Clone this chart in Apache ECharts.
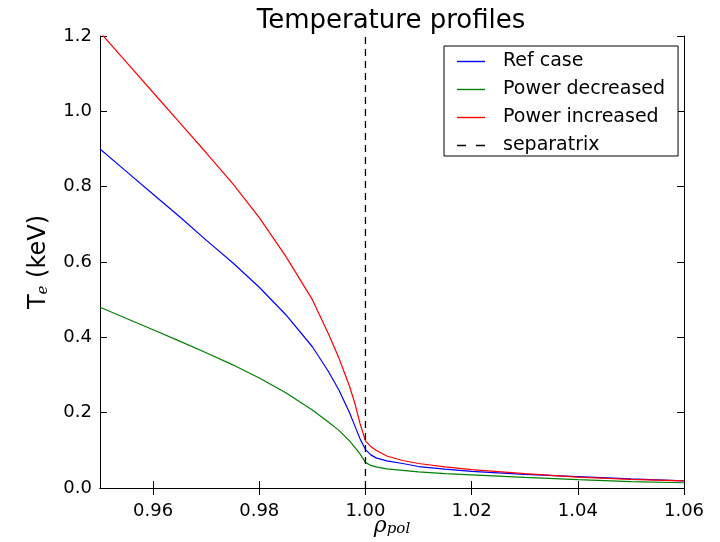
<!DOCTYPE html>
<html>
<head>
<meta charset="utf-8">
<script src="https://cdn.jsdelivr.net/npm/echarts@6/dist/echarts.min.js"></script>
<style>
  html, body { margin: 0; padding: 0; background: #fff; }
  #chart { width: 720px; height: 542px; }
</style>
</head>
<body>
<div id="chart"></div>
<script>
// rho_pol sample points
var rho = [0.95, 0.955, 0.96, 0.965, 0.97, 0.975, 0.98, 0.985, 0.99, 0.993, 0.995, 0.997, 0.998, 0.999,
  1.0, 1.001, 1.002, 1.004, 1.007, 1.01, 1.015, 1.02, 1.03, 1.04, 1.05, 1.06];
// Te (keV)
var refCase = [0.90, 0.84, 0.78, 0.72, 0.658, 0.598, 0.533, 0.46, 0.375, 0.31, 0.26, 0.20, 0.165, 0.13,
  0.102, 0.088, 0.080, 0.072, 0.065, 0.057, 0.050, 0.044, 0.036, 0.030, 0.024, 0.019];
var powerDecreased = [0.48, 0.45, 0.42, 0.39, 0.359, 0.327, 0.292, 0.253, 0.207, 0.175, 0.153, 0.125, 0.108, 0.090,
  0.068, 0.060, 0.056, 0.051, 0.047, 0.043, 0.038, 0.035, 0.028, 0.022, 0.017, 0.014];
var powerIncreased = [1.21, 1.13, 1.05, 0.97, 0.89, 0.808, 0.718, 0.615, 0.50, 0.41, 0.345, 0.27, 0.225, 0.17,
  0.125, 0.11, 0.10, 0.085, 0.073, 0.065, 0.056, 0.049, 0.038, 0.029, 0.023, 0.019];
var separatrix = [[1.0, 0], [1.0, 1.2]];
var xTicks = [0.96, 0.98, 1.00, 1.02, 1.04, 1.06];

function pairs(ys) {
  return rho.map(function (x, i) { return [x, ys[i]]; });
}

var font = 'DejaVu Sans';
var lineIcon = 'path://M0,0L28,0L28,1.4L0,1.4Z';
var dashIcon = 'path://M0,0L9,0L9,1.4L0,1.4ZM19,0L28,0L28,1.4L19,1.4Z';

var chart = echarts.init(document.getElementById('chart'));

var axisLine = { show: true, lineStyle: { color: '#000', width: 1 } };

var option = {
  animation: false,
  backgroundColor: '#fff',
  title: {
    text: 'Temperature profiles',
    left: 391,
    textAlign: 'center',
    top: 8,
    padding: 0,
    textStyle: { fontFamily: font, fontSize: 26, fontWeight: 'normal', color: '#000' }
  },
  grid: { left: 100, right: 36, top: 36, bottom: 54, outerBoundsMode: 'none' },
  legend: {
    orient: 'vertical',
    left: 444,
    top: 46,
    padding: [6, 13, 1, 13],
    itemGap: 9,
    itemWidth: 28,
    itemHeight: 2,
    borderColor: '#000',
    borderWidth: 1,
    borderRadius: 0,
    backgroundColor: '#fff',
    textStyle: { fontFamily: font, fontSize: 19, color: '#000', lineHeight: 19, padding: [0, 0, 0, 13] },
    data: [
      { name: 'Ref case', icon: lineIcon },
      { name: 'Power decreased', icon: lineIcon },
      { name: 'Power increased', icon: lineIcon },
      { name: 'separatrix', icon: dashIcon }
    ]
  },
  xAxis: [{
    type: 'value',
    min: 0.95,
    max: 1.06,
    position: 'bottom',
    name: '{r|ρ}{s|pol}',
    nameLocation: 'middle',
    nameGap: 27,
    nameMoveOverlap: false,
    nameTextStyle: {
      rich: {
        r: { fontFamily: 'DejaVu Serif', fontStyle: 'italic', fontSize: 22, color: '#000', lineHeight: 22 },
        s: { fontFamily: 'DejaVu Serif', fontStyle: 'italic', fontSize: 15, color: '#000', lineHeight: 12, verticalAlign: 'bottom' }
      }
    },
    axisLine: axisLine,
    axisTick: { inside: true, length: 7, customValues: xTicks, lineStyle: { color: '#000' } },
    axisLabel: {
      customValues: xTicks,
      margin: 14,
      fontFamily: font, fontSize: 18, color: '#000',
      formatter: function (v) { return v.toFixed(2); }
    },
    splitLine: { show: false }
  }, {
    type: 'value',
    min: 0.95,
    max: 1.06,
    position: 'top',
    axisLine: axisLine,
    axisTick: { inside: true, length: 7, customValues: xTicks, lineStyle: { color: '#000' } },
    axisLabel: { show: false },
    splitLine: { show: false }
  }],
  yAxis: [{
    type: 'value',
    min: 0,
    max: 1.2,
    interval: 0.2,
    position: 'left',
    name: '{t|T}{s|e}{t| (keV)}',
    nameLocation: 'middle',
    nameRotate: 90,
    nameGap: 49,
    nameMoveOverlap: false,
    nameTextStyle: {
      rich: {
        t: { fontFamily: font, fontSize: 24, color: '#000', lineHeight: 24 },
        s: { fontFamily: 'DejaVu Serif', fontStyle: 'italic', fontSize: 15, color: '#000', lineHeight: 14, verticalAlign: 'bottom' }
      }
    },
    axisLine: axisLine,
    axisTick: { inside: true, length: 7, lineStyle: { color: '#000' } },
    axisLabel: {
      margin: 8,
      fontFamily: font, fontSize: 18, color: '#000',
      formatter: function (v) { return v.toFixed(1); }
    },
    splitLine: { show: false }
  }, {
    type: 'value',
    min: 0,
    max: 1.2,
    interval: 0.2,
    position: 'right',
    axisLine: axisLine,
    axisTick: { inside: true, length: 7, lineStyle: { color: '#000' } },
    axisLabel: { show: false },
    splitLine: { show: false }
  }],
  series: [{
    name: 'Ref case',
    type: 'line',
    data: pairs(refCase),
    showSymbol: false,
    color: '#0000ff',
    lineStyle: { width: 1.2 }
  }, {
    name: 'Power decreased',
    type: 'line',
    data: pairs(powerDecreased),
    showSymbol: false,
    color: '#008000',
    lineStyle: { width: 1.2 }
  }, {
    name: 'Power increased',
    type: 'line',
    data: pairs(powerIncreased),
    showSymbol: false,
    color: '#ff0000',
    lineStyle: { width: 1.2 }
  }, {
    name: 'separatrix',
    type: 'line',
    data: separatrix,
    showSymbol: false,
    color: '#000',
    lineStyle: { width: 1.3, type: [7, 5] }
  }]
};

chart.setOption(option);
</script>
</body>
</html>
